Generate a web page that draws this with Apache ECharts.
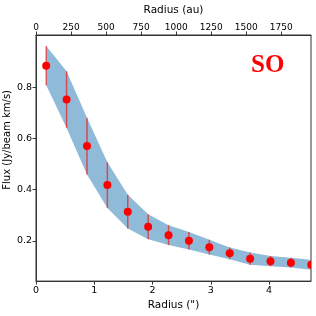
<!DOCTYPE html>
<html>
<head>
<meta charset="utf-8">
<script src="https://cdn.jsdelivr.net/npm/echarts@6/dist/echarts.min.js"></script>
<style>html,body{margin:0;padding:0;background:#fff}#c{width:316px;height:316px}</style>
</head>
<body>
<div id="c"></div>
<script>
const xArcsec = [0.175,0.525,0.875,1.225,1.575,1.925,2.275,2.625,2.975,3.325,3.675,4.025,4.375,4.725];
const flux    = [0.886,0.753,0.571,0.418,0.314,0.255,0.222,0.200,0.175,0.151,0.130,0.120,0.114,0.106];
const fluxErr = [0.077,0.111,0.111,0.090,0.066,0.049,0.039,0.034,0.029,0.023,0.024,0.020,0.019,0.020];
const xTicks  = [0,1,2,3,4];
const auTicks = [0,250,500,750,1000,1250,1500,1750];
const yTicks  = [0.2,0.4,0.6,0.8];

const bars  = xArcsec.map((x,i)=>[x, flux[i]-fluxErr[i], flux[i]+fluxErr[i], flux[i]]);

const font = 'DejaVu Sans';
const axisCol = '#333';
const chart = echarts.init(document.getElementById('c'));
chart.setOption({
  animation:false,
  grid:{left:36,right:5,top:25,bottom:29,show:true,borderColor:axisCol,borderWidth:1,backgroundColor:'transparent'},
  xAxis:[{
    type:'value',min:0,max:4.72,position:'bottom',
    name:'Radius (")',nameLocation:'middle',nameGap:18,
    nameTextStyle:{fontFamily:font,fontSize:10.5,color:'#000'},
    axisLine:{show:true,lineStyle:{color:axisCol}},
    axisTick:{show:true,inside:false,length:3.5,customValues:xTicks,lineStyle:{color:axisCol}},
    axisLabel:{customValues:xTicks,fontFamily:font,fontSize:9.5,color:'#000',margin:4,formatter:v=>String(Math.round(v))},
    splitLine:{show:false}
  },{
    type:'value',min:0,max:1962,position:'top',
    name:'Radius (au)',nameLocation:'middle',nameGap:19,
    nameTextStyle:{fontFamily:font,fontSize:10.5,color:'#000'},
    axisLine:{show:true,lineStyle:{color:axisCol}},
    axisTick:{show:true,inside:false,length:3.5,customValues:auTicks,lineStyle:{color:axisCol}},
    axisLabel:{customValues:auTicks,fontFamily:font,fontSize:9,color:'#000',margin:3,formatter:v=>String(Math.round(v))},
    splitLine:{show:false}
  }],
  yAxis:{
    type:'value',min:0.042,max:1.006,
    axisLine:{show:true,lineStyle:{color:axisCol}},
    axisTick:{show:true,inside:false,length:3.5,customValues:yTicks,lineStyle:{color:axisCol}},
    axisLabel:{customValues:yTicks,fontFamily:font,fontSize:9.5,color:'#000',margin:4,formatter:v=>v.toFixed(1)},
    splitLine:{show:false}
  },
  graphic:[{
    type:'text',left:2,top:90,rotation:Math.PI/2,
    style:{text:'Flux (Jy/beam km/s)',font:'10px "DejaVu Sans"',fill:'#000'}
  },{
    type:'text',left:251,top:53,
    style:{text:'SO',font:'bold 25px "Liberation Serif"',fill:'#ff0000'}
  }],
  series:[{
    type:'custom',xAxisIndex:0,clip:true,data:bars,silent:true,
    encode:{x:0,y:[1,2]},
    renderItem:function(params,api){
      if(params.dataIndex!==0) return null;
      const up=[],dn=[];
      for(let i=0;i<bars.length;i++){
        up.push(api.coord([bars[i][0],bars[i][2]]));
        dn.push(api.coord([bars[i][0],bars[i][1]]));
      }
      return {type:'polygon',shape:{points:up.concat(dn.reverse())},style:{fill:'#8fbbd9'}};
    }
  },{
    type:'custom',xAxisIndex:0,clip:true,data:bars,
    encode:{x:0,y:[1,2,3]},
    renderItem:function(params,api){
      const x=api.value(0),lo=api.value(1),hi=api.value(2),y=api.value(3);
      const p1=api.coord([x,lo]),p2=api.coord([x,hi]),c=api.coord([x,y]);
      return {type:'group',children:[
        {type:'line',shape:{x1:p1[0],y1:p1[1],x2:p2[0],y2:p2[1]},style:{stroke:'rgba(255,0,0,0.6)',lineWidth:1.5}},
        {type:'circle',shape:{cx:c[0],cy:c[1],r:4},style:{fill:'#ff0000'}}
      ]};
    }
  }]
});
</script>
</body>
</html>
